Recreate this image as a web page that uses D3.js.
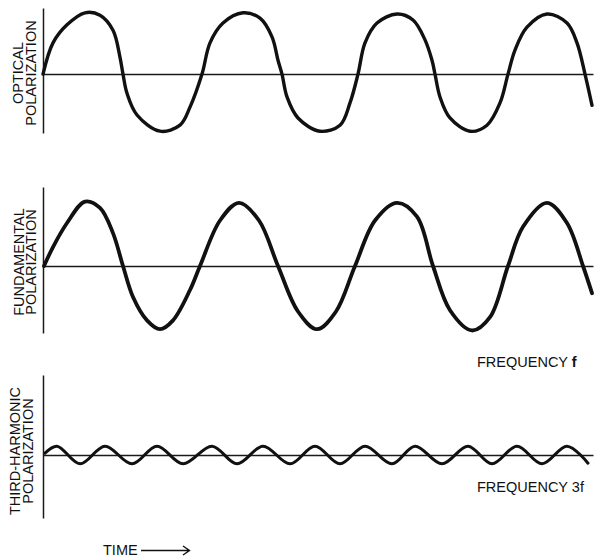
<!DOCTYPE html>
<html lang="en">
<head>
<meta charset="UTF-8">
<title>Optical, fundamental and third-harmonic polarization</title>
<style>
  body { margin: 0; background: #fff; }
  svg { display: block; background: #fff; }
  text { font-family: 'Liberation Sans', Arial, Helvetica, sans-serif; font-size: 14.5px; fill: #111; }
  .axis .domain { stroke: #1a1a1a; stroke-width: 1.5px; }
  .wave { fill: none; stroke: #111; stroke-linejoin: round; stroke-linecap: round; }
  .arrow { fill: none; stroke: #111; stroke-width: 1.4px; }
</style>
</head>
<body>
<svg width="594" height="560"></svg>
<script src="https://d3js.org/d3.v7.min.js"></script>
<script>
  // time in arbitrary units (0 = the vertical axis), polarization in units of the fundamental amplitude
  const timeDomain = [0, 550];

  // points: [time, polarization]
  const optical = [
    [0, 0], [10, 0.52], [24, 0.82], [42, 1.02], [57, 0.98], [70, 0.73], [77, 0.28], [80, 0],
    [84, -0.32], [94, -0.68], [117, -0.95], [137, -0.85], [147, -0.55], [159, 0],
    [167, 0.52], [180, 0.85], [200, 1.02], [217, 0.93], [229, 0.62], [235, 0.23], [239, 0],
    [244, -0.38], [255, -0.73], [277, -0.95], [297, -0.85], [307, -0.48], [315, 0],
    [322, 0.52], [334, 0.85], [354, 1.0], [370, 0.9], [382, 0.57], [389, 0.23], [392, 0],
    [397, -0.38], [407, -0.73], [427, -0.95], [444, -0.85], [457, -0.48], [465, 0],
    [472, 0.4], [484, 0.78], [504, 1.0], [524, 0.85], [534, 0.52], [542, 0], [549, -0.52]
  ];

  const fundamental = [
    [1, 0], [10, 0.3], [24, 0.68], [42, 1.02], [57, 0.92], [70, 0.52], [80, 0],
    [90, -0.49], [104, -0.86], [117, -1.0], [130, -0.86], [147, -0.38], [157, 0],
    [177, 0.72], [196, 1.0], [216, 0.72], [235, 0],
    [255, -0.72], [274, -1.0], [293, -0.72], [312, 0],
    [332, 0.72], [354, 1.0], [374, 0.78], [390, 0],
    [407, -0.7], [429, -1.02], [447, -0.81], [465, 0],
    [480, 0.62], [504, 1.0], [524, 0.68], [540, 0], [549, -0.43]
  ];

  const thirdHarmonic = [
    [2, 0.03], [14, 0.14], [37, -0.14], [62, 0.14], [89, -0.14], [114, 0.14], [140, -0.14],
    [169, 0.14], [194, -0.14], [220, 0.14], [247, -0.14], [272, 0.14], [297, -0.14],
    [322, 0.14], [349, -0.14], [372, 0.14], [399, -0.14], [425, 0.14], [449, -0.14],
    [474, 0.14], [499, -0.14], [524, 0.14], [545, -0.13]
  ];

  const panelLabels = [
    ["OPTICAL", "POLARIZATION"],
    ["FUNDAMENTAL", "POLARIZATION"],
    ["THIRD-HARMONIC", "POLARIZATION"]
  ];
  const frequencyLabels = [null, ["FREQUENCY ", "f"], ["FREQUENCY ", "3f"]];
  const timeLabel = "TIME";

  const svg = d3.select("svg");

  const x = d3.scaleLinear().domain(timeDomain).range([43, 593]);

  // layout of the three stacked panels
  const panels = [
    { data: optical, top: 8, bottom: 133, yDomain: [-0.98, 1.1], labelY: 73, labelX: [23, 36], stroke: 3.4, freqY: null },
    { data: fundamental, top: 187, bottom: 333, yDomain: [-1.06, 1.25], labelY: 262, labelX: [24, 36], stroke: 3.8, freqY: 367 },
    { data: thirdHarmonic, top: 375, bottom: 518, yDomain: [-1.0, 1.27], labelY: 451, labelX: [20, 33], stroke: 3, freqY: 492 }
  ];

  panels.forEach(function(p, i) {
    const y = d3.scaleLinear().domain(p.yDomain).range([p.bottom, p.top]);
    const g = svg.append("g");

    // vertical polarization axis, no ticks
    g.append("g")
      .attr("class", "axis")
      .attr("transform", `translate(${x(0)},0)`)
      .call(d3.axisLeft(y).ticks(0).tickSizeOuter(0));

    // zero line along time
    g.append("g")
      .attr("class", "axis")
      .attr("transform", `translate(0,${y(0)})`)
      .call(d3.axisBottom(x).ticks(0).tickSizeOuter(0));

    const line = d3.line()
      .x(d => x(d[0]))
      .y(d => y(d[1]))
      .curve(d3.curveCatmullRom.alpha(0.5));

    g.append("path")
      .datum(p.data)
      .attr("class", "wave")
      .attr("stroke-width", p.stroke)
      .attr("d", line);

    // rotated two-line label on the left
    panelLabels[i].forEach(function(txt, k) {
      g.append("text")
        .attr("transform", `translate(${p.labelX[k]},${p.labelY}) rotate(-90)`)
        .attr("text-anchor", "middle")
        .text(txt);
    });

    if (frequencyLabels[i]) {
      const t = g.append("text")
        .attr("x", 477)
        .attr("y", p.freqY)
        .attr("font-size", i === 2 ? "13.5px" : null);
      t.append("tspan").text(frequencyLabels[i][0]);
      t.append("tspan").attr("font-weight", i === 1 ? "bold" : null).text(frequencyLabels[i][1]);
    }
  });

  // time arrow at the bottom
  svg.append("text")
    .attr("x", 103)
    .attr("y", 555)
    .text(timeLabel);

  svg.append("path")
    .attr("class", "arrow")
    .attr("d", "M141,550.5 L189,550.5 M183,546 L189.5,550.5 L183,555");
</script>
</body>
</html>
